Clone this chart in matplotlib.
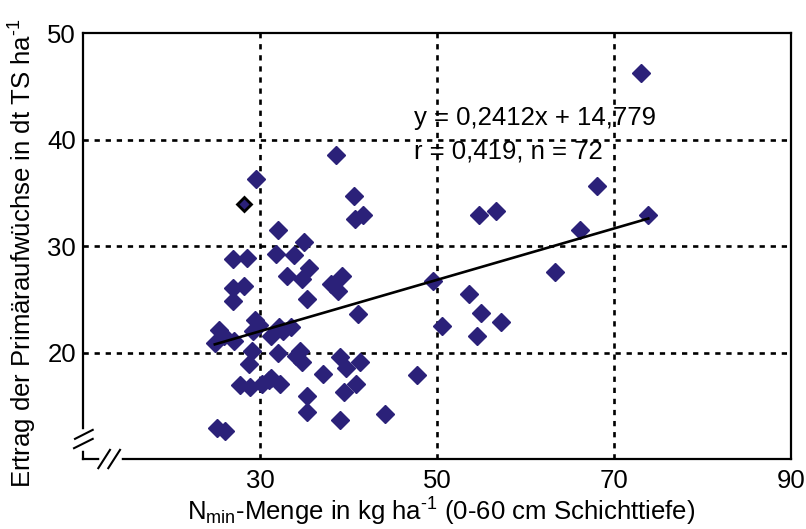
import matplotlib
matplotlib.use("Agg")
import matplotlib.pyplot as plt
import numpy as np

plt.rcParams["font.family"] = ["Liberation Sans", "DejaVu Sans"]
plt.rcParams["mathtext.fontset"] = "custom"
plt.rcParams["mathtext.rm"] = "Liberation Sans"
plt.rcParams["mathtext.it"] = "Liberation Sans:italic"

# Nmin-Menge (kg/ha, 0-60 cm) und Ertrag der Primäraufwüchse (dt TS/ha)
nmin = [73.1, 29.6, 38.6, 40.6, 40.8, 41.7, 54.8, 56.7, 68.1, 73.9,
        66.2, 32.0, 35.0, 27.0, 28.5, 31.8, 33.9, 35.6, 33.1, 34.8,
        26.9, 28.2, 38.0, 38.8, 39.3, 63.4, 49.6, 26.9, 35.3, 41.1,
        53.6, 55.0, 57.2, 50.6, 54.5, 29.4, 29.2, 25.4, 24.9, 27.1,
        31.3, 32.1, 33.5, 29.1, 32.0, 34.5, 34.7, 28.8, 39.1, 39.7,
        41.3, 37.1, 47.8, 27.7, 28.9, 30.2, 31.3, 32.3, 35.3, 35.3,
        40.9, 39.5, 39.1, 44.1, 25.1, 26.1, 25.9, 29.9, 32.6, 34.1,
        31.0]
ertrag = [46.3, 36.3, 38.6, 34.7, 32.6, 32.9, 32.9, 33.3, 35.7, 32.9,
          31.5, 31.5, 30.4, 28.8, 28.9, 29.3, 29.2, 28.0, 27.2, 26.9,
          26.1, 26.3, 26.5, 25.8, 27.2, 27.6, 26.7, 24.9, 25.0, 23.6,
          25.5, 23.7, 22.9, 22.5, 21.6, 23.1, 22.0, 22.1, 20.9, 21.1,
          21.6, 22.4, 22.4, 20.2, 20.0, 20.2, 19.1, 18.9, 19.6, 18.6,
          19.1, 18.0, 17.9, 17.0, 16.8, 17.1, 17.6, 17.1, 15.9, 14.4,
          17.1, 16.3, 13.7, 14.2, 12.9, 12.6, 21.6, 22.6, 22.0, 19.7,
          17.4]

# hervorgehobener Einzelwert
nmin_mark = [28.2]
ertrag_mark = [34.0]

# Regression
steigung = 0.2412
achsenabschnitt = 14.779
r_wert = 0.419
n_wert = 72

x_ticks = [30, 50, 70, 90]
y_ticks = [20, 30, 40, 50]

farbe = "#2B2179"
fs = 18.5

fig = plt.figure(figsize=(8.06, 5.29), dpi=100)
ax = fig.add_axes([0.103, 0.132, 0.878, 0.805])

ax.set_xlim(10, 90)
ax.set_ylim(10, 50)

# gestricheltes Gitter
for xv in x_ticks[:-1]:
    ax.axvline(xv, color="black", lw=1.9, ls=(0, (2.0, 2.2)), zorder=1)
for yv in y_ticks[:-1]:
    ax.axhline(yv, color="black", lw=1.9, ls=(0, (2.0, 2.2)), zorder=1)

ax.plot(nmin, ertrag, ls="none", marker="D", ms=8.8, color=farbe,
        mec=farbe, zorder=3)
ax.plot(nmin_mark, ertrag_mark, ls="none", marker="D", ms=7.5, color=farbe,
        mec="black", mew=2, zorder=3)

alle_x = nmin + nmin_mark
xr = np.array([min(alle_x), max(alle_x)])
ax.plot(xr, steigung * xr + achsenabschnitt, color="black", lw=1.9, zorder=4)

gl = "y = {:.4f}x + {:.3f}".format(steigung, achsenabschnitt).replace(".", ",")
rn = "r = {:.3f}, n = {}".format(r_wert, n_wert).replace(".", ",")
ax.text(47.4, 42.0, gl, fontsize=fs, va="center", ha="left", zorder=5)
ax.text(47.4, 38.9, rn, fontsize=fs, va="center", ha="left", zorder=5)

ax.set_xticks(x_ticks)
ax.set_yticks(y_ticks)
ax.tick_params(length=0, labelsize=fs)
ax.tick_params(axis="x", pad=7)
ax.tick_params(axis="y", pad=5)

for s in ax.spines.values():
    s.set_linewidth(1.6)

# Achsenbrüche
ax.plot([0, 0], [0.027, 0.064], color="white", lw=4, transform=ax.transAxes,
        clip_on=False, zorder=6)
ax.plot([-0.0113, 0.0137], [0.0477, 0.0688], color="black", lw=1.5,
        transform=ax.transAxes, clip_on=False, zorder=7)
ax.plot([-0.0127, 0.0137], [0.0258, 0.0477], color="black", lw=1.5,
        transform=ax.transAxes, clip_on=False, zorder=7)
ax.plot([0.0268, 0.0508], [0, 0], color="white", lw=4, transform=ax.transAxes,
        clip_on=False, zorder=6)
ax.plot([0.0216, 0.0381], [-0.0211, 0.0218], color="black", lw=1.5,
        transform=ax.transAxes, clip_on=False, zorder=7)
ax.plot([0.0357, 0.0523], [-0.0211, 0.0218], color="black", lw=1.5,
        transform=ax.transAxes, clip_on=False, zorder=7)

fig.text(0.547, 0.016,
         r"N$_{\mathrm{min}}$-Menge in kg ha$^{\text{-1}}$ (0-60 cm Schichttiefe)",
         fontsize=fs, ha="center", va="baseline")
fig.text(0.029, 0.522,
         r"Ertrag der Primäraufwüchse in dt TS ha$^{\text{-1}}$",
         fontsize=fs, ha="center", va="center", rotation=90)

fig.savefig("out.png", dpi=100)
